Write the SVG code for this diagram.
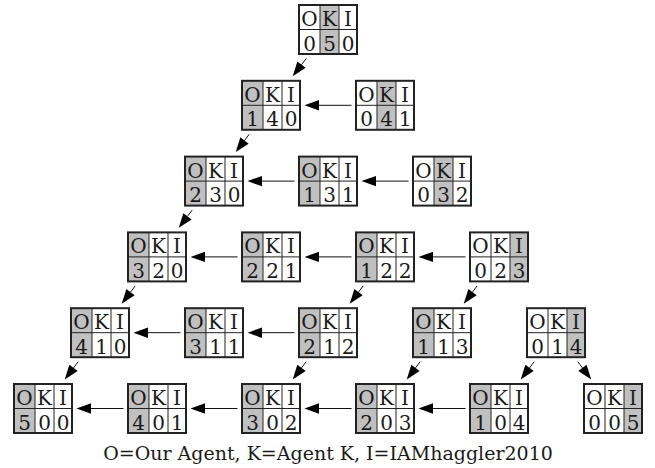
<svg xmlns="http://www.w3.org/2000/svg" xmlns:xlink="http://www.w3.org/1999/xlink" width="655" height="468" viewBox="0 0 655 468">
  <style>
    .bg { fill: #ffffff; }
    .sh { fill: #c0c0c0; }
    .frame { fill: none; stroke: #222222; stroke-width: 2; }
    .rule { fill: none; stroke: #222222; stroke-width: 1; }
    .t { font-family: "DejaVu Serif", "Liberation Serif", serif; font-size: 20px; fill: #1a1a1a; text-anchor: middle; }
    .cap { font-family: "DejaVu Serif", "Liberation Serif", serif; font-size: 19px; fill: #1a1a1a; text-anchor: middle; }
    .edge { fill: none; stroke: #111111; stroke-width: 1; marker-end: url(#head); }
  </style>
  <defs>
    <marker id="head" markerUnits="userSpaceOnUse" markerWidth="16" markerHeight="12" refX="0" refY="0" viewBox="0 -6 16 12" orient="auto" overflow="visible">
      <path d="M0,-5.2 L14.5,0 L0,5.2 Z" fill="#000000"/>
    </marker>
    <!-- 3x2 table: columns O | K | I, header row and count row -->
    <g id="grid">
      <path class="rule" d="M21,0V49M40,0V49M0,24.5H58"/>
      <rect class="frame" x="0" y="0" width="58" height="49"/>
    </g>
    <g id="head-row">
      <text class="t" x="10.5" y="21">O</text>
      <text class="t" x="30.5" y="21">K</text>
      <text class="t" x="49" y="21">I</text>
    </g>
    <rect id="shO" class="sh" x="0" y="0" width="21" height="49"/>
    <rect id="shK" class="sh" x="21" y="0" width="19" height="49"/>
    <rect id="shI" class="sh" x="40" y="0" width="18" height="49"/>
  </defs>

  <rect x="0" y="0" width="655" height="468" fill="#ffffff"/>

  <!-- connectors -->
  <g id="edges">
    <!-- same-level moves -->
    <path class="edge" d="M351.5,105.3H319"/>
    <path class="edge" d="M294.5,181.1H262"/>
    <path class="edge" d="M408.5,181.1H376"/>
    <path class="edge" d="M237.5,256.9H205"/>
    <path class="edge" d="M351.5,256.9H319"/>
    <path class="edge" d="M465.5,256.9H433"/>
    <path class="edge" d="M180.5,332.7H148"/>
    <path class="edge" d="M294.5,332.7H262"/>
    <path class="edge" d="M123.5,408.5H91"/>
    <path class="edge" d="M237.5,408.5H205"/>
    <path class="edge" d="M351.5,408.5H319"/>
    <path class="edge" d="M465.5,408.5H433"/>
    <!-- level-down moves -->
    <path class="edge" d="M306.2,58.5L301.5,64.7"/>
    <path class="edge" d="M249.2,134.3L244.5,140.5"/>
    <path class="edge" d="M192.2,210.1L187.5,216.3"/>
    <path class="edge" d="M135.2,285.9L130.5,292.1"/>
    <path class="edge" d="M363.2,285.9L358.5,292.1"/>
    <path class="edge" d="M477.2,285.9L472.5,292.1"/>
    <path class="edge" d="M78.2,361.7L73.5,367.9"/>
    <path class="edge" d="M306.2,361.7L301.5,367.9"/>
    <path class="edge" d="M420.2,361.7L415.5,367.9"/>
    <path class="edge" d="M534.2,361.7L529.5,367.9"/>
    <path class="edge" d="M577.8,361.7L582.5,367.9"/>
  </g>

  <!-- level 1 -->
  <g id="n050" transform="translate(299,5)">
    <rect class="bg" width="58" height="49"/><use href="#shK"/>
    <use href="#head-row"/>
    <text class="t" x="10.5" y="45.5">0</text><text class="t" x="30.5" y="45.5">5</text><text class="t" x="49" y="45.5">0</text>
    <use href="#grid"/>
  </g>

  <!-- level 2 -->
  <g id="n140" transform="translate(242,80.8)">
    <rect class="bg" width="58" height="49"/><use href="#shO"/>
    <use href="#head-row"/>
    <text class="t" x="10.5" y="45.5">1</text><text class="t" x="30.5" y="45.5">4</text><text class="t" x="49" y="45.5">0</text>
    <use href="#grid"/>
  </g>
  <g id="n041" transform="translate(356,80.8)">
    <rect class="bg" width="58" height="49"/><use href="#shK"/>
    <use href="#head-row"/>
    <text class="t" x="10.5" y="45.5">0</text><text class="t" x="30.5" y="45.5">4</text><text class="t" x="49" y="45.5">1</text>
    <use href="#grid"/>
  </g>

  <!-- level 3 -->
  <g id="n230" transform="translate(185,156.6)">
    <rect class="bg" width="58" height="49"/><use href="#shO"/>
    <use href="#head-row"/>
    <text class="t" x="10.5" y="45.5">2</text><text class="t" x="30.5" y="45.5">3</text><text class="t" x="49" y="45.5">0</text>
    <use href="#grid"/>
  </g>
  <g id="n131" transform="translate(299,156.6)">
    <rect class="bg" width="58" height="49"/><use href="#shO"/>
    <use href="#head-row"/>
    <text class="t" x="10.5" y="45.5">1</text><text class="t" x="30.5" y="45.5">3</text><text class="t" x="49" y="45.5">1</text>
    <use href="#grid"/>
  </g>
  <g id="n032" transform="translate(413,156.6)">
    <rect class="bg" width="58" height="49"/><use href="#shK"/>
    <use href="#head-row"/>
    <text class="t" x="10.5" y="45.5">0</text><text class="t" x="30.5" y="45.5">3</text><text class="t" x="49" y="45.5">2</text>
    <use href="#grid"/>
  </g>

  <!-- level 4 -->
  <g id="n320" transform="translate(128,232.4)">
    <rect class="bg" width="58" height="49"/><use href="#shO"/>
    <use href="#head-row"/>
    <text class="t" x="10.5" y="45.5">3</text><text class="t" x="30.5" y="45.5">2</text><text class="t" x="49" y="45.5">0</text>
    <use href="#grid"/>
  </g>
  <g id="n221" transform="translate(242,232.4)">
    <rect class="bg" width="58" height="49"/><use href="#shO"/>
    <use href="#head-row"/>
    <text class="t" x="10.5" y="45.5">2</text><text class="t" x="30.5" y="45.5">2</text><text class="t" x="49" y="45.5">1</text>
    <use href="#grid"/>
  </g>
  <g id="n122" transform="translate(356,232.4)">
    <rect class="bg" width="58" height="49"/><use href="#shO"/>
    <use href="#head-row"/>
    <text class="t" x="10.5" y="45.5">1</text><text class="t" x="30.5" y="45.5">2</text><text class="t" x="49" y="45.5">2</text>
    <use href="#grid"/>
  </g>
  <g id="n023" transform="translate(470,232.4)">
    <rect class="bg" width="58" height="49"/><use href="#shI"/>
    <use href="#head-row"/>
    <text class="t" x="10.5" y="45.5">0</text><text class="t" x="30.5" y="45.5">2</text><text class="t" x="49" y="45.5">3</text>
    <use href="#grid"/>
  </g>

  <!-- level 5 -->
  <g id="n410" transform="translate(71,308.2)">
    <rect class="bg" width="58" height="49"/><use href="#shO"/>
    <use href="#head-row"/>
    <text class="t" x="10.5" y="45.5">4</text><text class="t" x="30.5" y="45.5">1</text><text class="t" x="49" y="45.5">0</text>
    <use href="#grid"/>
  </g>
  <g id="n311" transform="translate(185,308.2)">
    <rect class="bg" width="58" height="49"/><use href="#shO"/>
    <use href="#head-row"/>
    <text class="t" x="10.5" y="45.5">3</text><text class="t" x="30.5" y="45.5">1</text><text class="t" x="49" y="45.5">1</text>
    <use href="#grid"/>
  </g>
  <g id="n212" transform="translate(299,308.2)">
    <rect class="bg" width="58" height="49"/><use href="#shO"/>
    <use href="#head-row"/>
    <text class="t" x="10.5" y="45.5">2</text><text class="t" x="30.5" y="45.5">1</text><text class="t" x="49" y="45.5">2</text>
    <use href="#grid"/>
  </g>
  <g id="n113" transform="translate(413,308.2)">
    <rect class="bg" width="58" height="49"/><use href="#shO"/>
    <use href="#head-row"/>
    <text class="t" x="10.5" y="45.5">1</text><text class="t" x="30.5" y="45.5">1</text><text class="t" x="49" y="45.5">3</text>
    <use href="#grid"/>
  </g>
  <g id="n014" transform="translate(527,308.2)">
    <rect class="bg" width="58" height="49"/><use href="#shI"/>
    <use href="#head-row"/>
    <text class="t" x="10.5" y="45.5">0</text><text class="t" x="30.5" y="45.5">1</text><text class="t" x="49" y="45.5">4</text>
    <use href="#grid"/>
  </g>

  <!-- level 6 -->
  <g id="n500" transform="translate(14,384)">
    <rect class="bg" width="58" height="49"/><use href="#shO"/>
    <use href="#head-row"/>
    <text class="t" x="10.5" y="45.5">5</text><text class="t" x="30.5" y="45.5">0</text><text class="t" x="49" y="45.5">0</text>
    <use href="#grid"/>
  </g>
  <g id="n401" transform="translate(128,384)">
    <rect class="bg" width="58" height="49"/><use href="#shO"/>
    <use href="#head-row"/>
    <text class="t" x="10.5" y="45.5">4</text><text class="t" x="30.5" y="45.5">0</text><text class="t" x="49" y="45.5">1</text>
    <use href="#grid"/>
  </g>
  <g id="n302" transform="translate(242,384)">
    <rect class="bg" width="58" height="49"/><use href="#shO"/>
    <use href="#head-row"/>
    <text class="t" x="10.5" y="45.5">3</text><text class="t" x="30.5" y="45.5">0</text><text class="t" x="49" y="45.5">2</text>
    <use href="#grid"/>
  </g>
  <g id="n203" transform="translate(356,384)">
    <rect class="bg" width="58" height="49"/><use href="#shO"/>
    <use href="#head-row"/>
    <text class="t" x="10.5" y="45.5">2</text><text class="t" x="30.5" y="45.5">0</text><text class="t" x="49" y="45.5">3</text>
    <use href="#grid"/>
  </g>
  <g id="n104" transform="translate(470,384)">
    <rect class="bg" width="58" height="49"/><use href="#shO"/>
    <use href="#head-row"/>
    <text class="t" x="10.5" y="45.5">1</text><text class="t" x="30.5" y="45.5">0</text><text class="t" x="49" y="45.5">4</text>
    <use href="#grid"/>
  </g>
  <g id="n005" transform="translate(584,384)">
    <rect class="bg" width="58" height="49"/><use href="#shI"/>
    <use href="#head-row"/>
    <text class="t" x="10.5" y="45.5">0</text><text class="t" x="30.5" y="45.5">0</text><text class="t" x="49" y="45.5">5</text>
    <use href="#grid"/>
  </g>

  <!-- legend -->
  <text id="legend" class="cap" x="328" y="459.5">O=Our Agent, K=Agent K, I=IAMhaggler2010</text>
</svg>
